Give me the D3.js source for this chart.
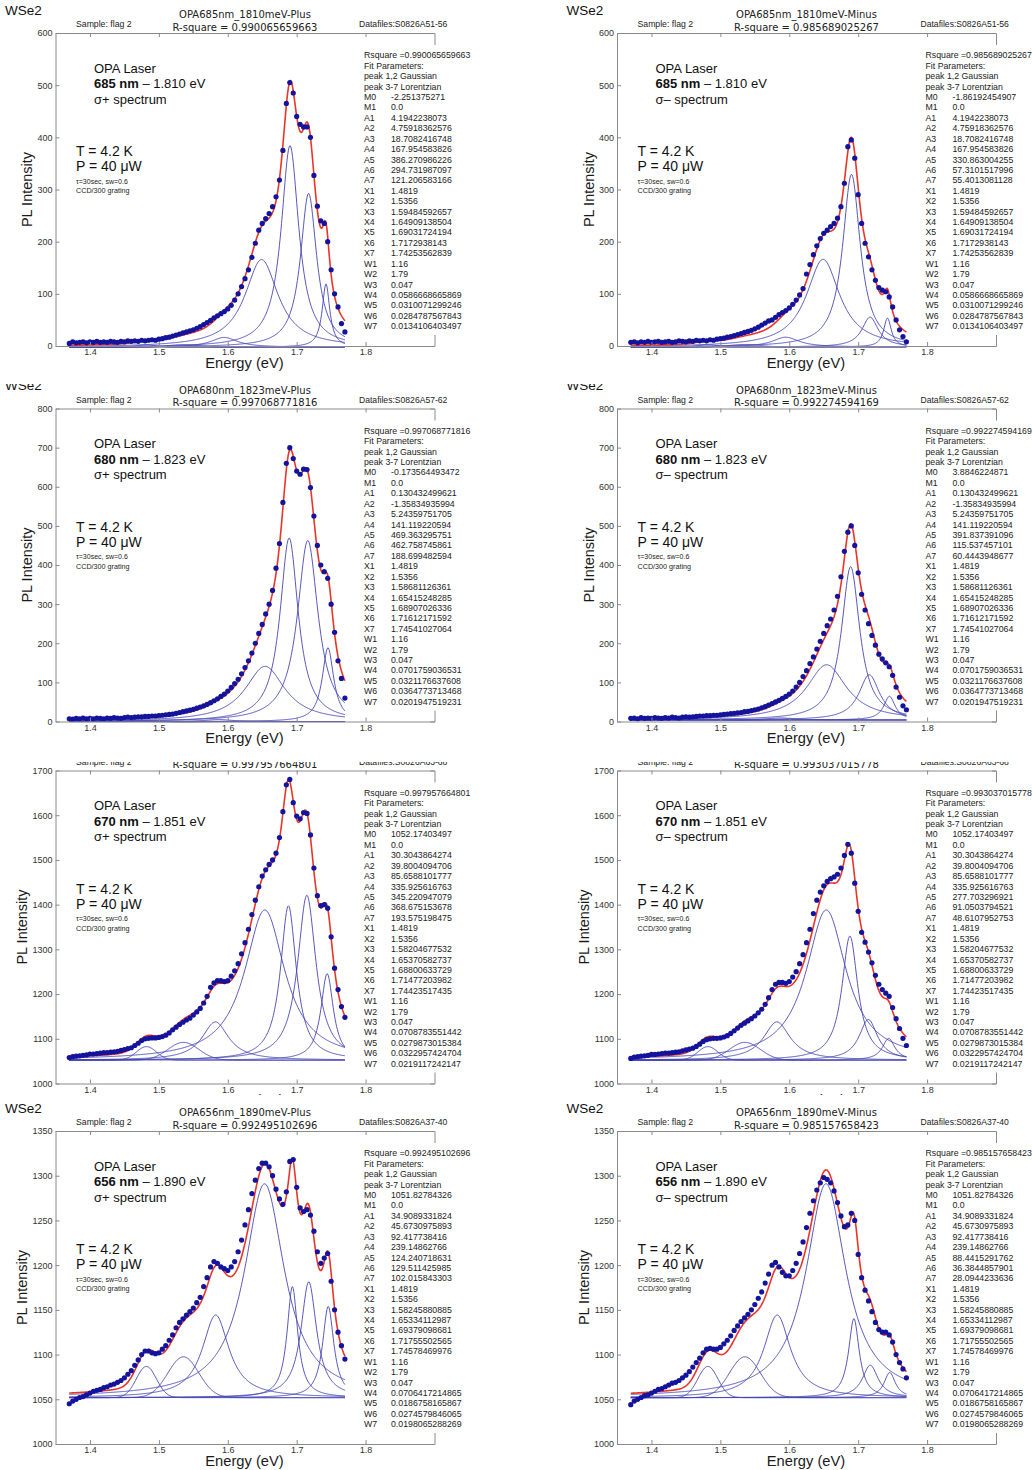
<!DOCTYPE html>
<html><head><meta charset="utf-8">
<script src="https://cdn.jsdelivr.net/npm/d3@7"></script>
<style>
body{margin:0;background:#fff}
text{font-family:"Liberation Sans",Arial,sans-serif}
</style>
</head><body>
<svg id="c" width="1032" height="1470"></svg>
<script>
// ---------- DATA ----------
const energy = [1.37,1.375,1.38,1.385,1.39,1.395,1.4,1.405,1.41,1.415,1.42,1.425,1.43,1.435,1.44,1.445,1.45,1.455,1.46,1.465,1.47,1.475,1.48,1.485,1.49,1.495,1.5,1.505,1.51,1.515,1.52,1.525,1.53,1.535,1.54,1.545,1.55,1.555,1.56,1.565,1.57,1.575,1.58,1.585,1.59,1.595,1.6,1.605,1.61,1.615,1.62,1.625,1.63,1.635,1.64,1.645,1.65,1.655,1.66,1.665,1.67,1.675,1.68,1.685,1.69,1.695,1.7,1.705,1.71,1.715,1.72,1.725,1.73,1.735,1.74,1.745,1.75,1.755,1.76,1.765,1.77];

const pl685Plus = [5,8,6,7,8,6,8,7,9,7,8, 7,9,8,7,9,8,10,9,10,9, 11,10,11,12,11,13,14,16,17,19, 21,23,25,27,29,31,34,37,41,45, 49,54,58,62,66,71,78,88,100,114, 129,146,170,197,222,235,244,254,267,286, 318,375,465,505,485,440,425,420,420,400, 327,268,240,235,200,146,100,75,43,27];
const pl685Minus = [7,8,6,8,7,9,7,8,9,7,8, 9,7,8,10,9,8,10,9,11,10, 11,10,12,11,13,14,15,17,18,20, 22,24,26,28,30,33,36,40,44,48, 50,55,60,64,68,73,80,88,98,110, 138,156,175,192,206,216,222,229,235,245, 267,312,382,395,360,290,235,197,171,146, 126,112,107,104,94,75,50,31,18,8];
const pl680Plus = [7,6,8,7,9,7,8,7,9,8,7, 9,8,10,9,8,10,11,10,11,12, 12,13,13,14,14,15,16,17,18,19, 21,23,25,27,29,31,34,37,40,44, 48,53,58,64,70,78,87,97,108,122, 138,155,175,200,225,248,275,300,335,392, 455,560,660,700,672,640,632,645,644,598, 525,450,400,383,366,300,228,155,110,60];
const pl680Minus = [8,9,7,10,8,9,8,10,9,8,10, 9,11,10,9,11,12,11,12,13,14, 14,15,15,16,16,17,18,19,20,21, 22,23,25,26,28,30,32,35,38,42, 46,50,54,59,64,70,78,88,100,115, 130,148,165,185,205,225,245,262,285,320, 370,435,484,500,450,380,325,285,250,220, 195,172,160,150,140,118,88,62,40,30];
const pl670Plus = [1058,1060,1061,1062,1063,1064,1066,1066,1067,1068,1069, 1069,1070,1071,1072,1074,1076,1078,1080,1085,1090, 1096,1100,1101,1102,1102,1103,1105,1108,1113,1120, 1126,1132,1137,1142,1146,1153,1160,1168,1180,1195, 1215,1225,1230,1230,1228,1230,1240,1252,1268,1290, 1315,1345,1378,1410,1440,1464,1478,1490,1500,1515, 1550,1608,1668,1680,1628,1598,1592,1606,1604,1556, 1482,1420,1398,1400,1392,1328,1258,1210,1172,1148];
const pl670Minus = [1056,1059,1060,1061,1062,1063,1065,1065,1066,1067,1068, 1068,1069,1070,1071,1073,1075,1077,1079,1083,1088, 1094,1098,1100,1101,1101,1102,1104,1107,1112,1118, 1124,1130,1135,1140,1145,1151,1158,1166,1177,1192, 1210,1222,1226,1226,1224,1228,1238,1250,1268,1288, 1315,1345,1380,1410,1428,1442,1452,1458,1462,1468, 1482,1510,1535,1515,1448,1385,1338,1316,1294,1270, 1242,1222,1210,1202,1195,1170,1145,1123,1101,1085];
const pl656Plus = [1045,1048,1050,1052,1053,1055,1057,1059,1060,1061,1063, 1064,1066,1067,1069,1071,1074,1078,1082,1088,1094, 1100,1104,1104,1102,1101,1102,1106,1110,1116,1122, 1130,1136,1140,1144,1148,1152,1158,1164,1176,1186, 1198,1204,1202,1198,1196,1194,1198,1204,1215,1228, 1245,1262,1280,1295,1308,1314,1314,1310,1300,1285, 1274,1268,1282,1316,1318,1287,1264,1260,1262,1256, 1238,1215,1202,1208,1213,1182,1150,1125,1110,1095];
const pl656Minus = [1044,1048,1050,1052,1054,1055,1057,1059,1061,1062,1064, 1066,1068,1069,1071,1074,1077,1081,1086,1091,1096, 1102,1106,1107,1106,1106,1108,1112,1116,1121,1127, 1132,1137,1141,1145,1150,1156,1163,1170,1180,1190, 1200,1203,1198,1192,1188,1188,1194,1202,1213,1226, 1242,1258,1272,1284,1292,1298,1296,1292,1283,1270, 1255,1243,1245,1258,1250,1212,1186,1172,1160,1148, 1136,1128,1125,1125,1122,1114,1100,1091,1084,1074];
const plSeries = [pl685Plus, pl685Minus, pl680Plus, pl680Minus, pl670Plus, pl670Minus, pl656Plus, pl656Minus];

const runTitles = ["OPA685nm_1810meV-Plus","OPA685nm_1810meV-Minus","OPA680nm_1823meV-Plus","OPA680nm_1823meV-Minus","OPA670nm_1851meV-Plus","OPA670nm_1851meV-Minus","OPA656nm_1890meV-Plus","OPA656nm_1890meV-Minus"];
const rSquares = ["0.990065659663","0.985689025267","0.997068771816","0.992274594169","0.997957664801","0.993037015778","0.992495102696","0.985157658423"];
const dataFiles = ["S0826A51-56","S0826A51-56","S0826A57-62","S0826A57-62","S0826A63-68","S0826A63-68","S0826A37-40","S0826A37-40"];
const laserNm = ["685","685","680","680","670","670","656","656"];
const laserEv = ["1.810","1.810","1.823","1.823","1.851","1.851","1.890","1.890"];
const helicity = ["σ+","σ–","σ+","σ–","σ+","σ–","σ+","σ–"];

const m0Params = ["-2.251375271","-1.86192454907","-0.173564493472","3.8846224871","1052.17403497","1052.17403497","1051.82784326","1051.82784326"];
const ampParams = [
 ["4.1942238073","4.75918362576","18.7082416748","167.954583826","386.270986226","294.731987097","121.206583166"],
 ["4.1942238073","4.75918362576","18.7082416748","167.954583826","330.863004255","57.3101517996","55.4013081128"],
 ["0.130432499621","-1.35834935994","5.24359751705","141.119220594","469.363295751","462.758745861","188.699482594"],
 ["0.130432499621","-1.35834935994","5.24359751705","141.119220594","391.837391096","115.537457101","60.4443948677"],
 ["30.3043864274","39.8004094706","85.6588101777","335.925616763","345.220947079","368.675153678","193.575198475"],
 ["30.3043864274","39.8004094706","85.6588101777","335.925616763","277.703296921","91.0503794521","48.6107952753"],
 ["34.9089331824","45.6730975893","92.417738416","239.14862766","124.240718631","129.511425985","102.015843303"],
 ["34.9089331824","45.6730975893","92.417738416","239.14862766","88.4415291762","36.3844857901","28.0944233636"]
];
const centerParams = [
 ["1.4819","1.5356","1.59484592657","1.64909138504","1.69031724194","1.7172938143","1.74253562839"],
 ["1.4819","1.5356","1.59484592657","1.64909138504","1.69031724194","1.7172938143","1.74253562839"],
 ["1.4819","1.5356","1.58681126361","1.65415248285","1.68907026336","1.71612171592","1.74541027064"],
 ["1.4819","1.5356","1.58681126361","1.65415248285","1.68907026336","1.71612171592","1.74541027064"],
 ["1.4819","1.5356","1.58204677532","1.65370582737","1.68800633729","1.71477203982","1.74423517435"],
 ["1.4819","1.5356","1.58204677532","1.65370582737","1.68800633729","1.71477203982","1.74423517435"],
 ["1.4819","1.5356","1.58245880885","1.65334112987","1.69379098681","1.71755502565","1.74578469976"],
 ["1.4819","1.5356","1.58245880885","1.65334112987","1.69379098681","1.71755502565","1.74578469976"]
];
const widthParams = [
 ["1.16","1.79","0.047","0.0586668665869","0.0310071299246","0.0284787567843","0.0134106403497"],
 ["1.16","1.79","0.047","0.0586668665869","0.0310071299246","0.0284787567843","0.0134106403497"],
 ["1.16","1.79","0.047","0.0701759036531","0.0321176637608","0.0364773713468","0.0201947519231"],
 ["1.16","1.79","0.047","0.0701759036531","0.0321176637608","0.0364773713468","0.0201947519231"],
 ["1.16","1.79","0.047","0.0708783551442","0.0279873015384","0.0322957424704","0.0219117242147"],
 ["1.16","1.79","0.047","0.0708783551442","0.0279873015384","0.0322957424704","0.0219117242147"],
 ["1.16","1.79","0.047","0.0706417214865","0.0186758165867","0.0274579846065","0.0198065288269"],
 ["1.16","1.79","0.047","0.0706417214865","0.0186758165867","0.0274579846065","0.0198065288269"]
];

const xTicks = [1.4,1.5,1.6,1.7,1.8];
const yDomains = [[0,600],[0,800],[1000,1700],[1000,1350]];
const yTicks = [[0,100,200,300,400,500,600],[0,100,200,300,400,500,600,700,800],[1000,1100,1200,1300,1400,1500,1600,1700],[1000,1050,1100,1150,1200,1250,1300,1350]];

// ---------- LAYOUT ----------
const colX = [0, 561.5];
const rowY = [0, 375.5, 737.5, 1098];
const rowClip = [[0,380],[384,755],[762,1095],[1099,1470]];
const yLabelX = [32, 32, 27, 27];
const L = 55.5, R = 434.5, T = 33, B = 346;

const svg = d3.select("#c");
svg.append("rect").attr("width",1032).attr("height",1470).attr("fill","#fff");
const defs = svg.append("defs");
rowClip.forEach((c,i)=>{
  defs.append("clipPath").attr("id","row"+i).attr("clipPathUnits","userSpaceOnUse")
    .append("rect").attr("x",0).attr("y",c[0]).attr("width",1032).attr("height",c[1]-c[0]);
});

function component(k, e, A, X, W){
  if (k < 2) { const s = W/80; return A*Math.exp(-0.5*((e-X)/s)*((e-X)/s)); }
  const h = W/2; return A/(1+((e-X)/h)*((e-X)/h));
}
const curveE = d3.range(1370, 1771).map(v=>v/1000);

for (let p=0; p<8; p++){
  const row = Math.floor(p/2), col = p%2;
  const outer = svg.append("g").attr("clip-path",`url(#row${row})`);
  const g = outer.append("g").attr("transform",`translate(${colX[col]},${rowY[row]})`);
  const x = d3.scaleLinear().domain([1.35,1.9]).range([L,R]);
  const y = d3.scaleLinear().domain(yDomains[row]).range([B,T]);

  // header
  g.append("text").attr("x",5).attr("y",14.5).attr("font-size",13.5).attr("fill","#111").text("WSe2");
  g.append("text").attr("x",76).attr("y",27).attr("font-size",8.7).attr("fill","#222").text("Sample: flag 2");
  g.append("text").attr("x",245).attr("y",18).attr("text-anchor","middle").attr("font-size",10)
    .style("font-family","DejaVu Sans").attr("fill","#222").text(runTitles[p]);
  g.append("text").attr("x",245).attr("y",30.5).attr("text-anchor","middle").attr("font-size",10)
    .style("font-family","DejaVu Sans").attr("fill","#222").text("R-square = " + rSquares[p]);
  g.append("text").attr("x",359).attr("y",27).attr("font-size",8.6).attr("fill","#222").text("Datafiles:" + dataFiles[p]);

  // model curves from the printed fit parameters
  const M0 = +m0Params[p];
  const A = ampParams[p].map(Number), X = centerParams[p].map(Number), W = widthParams[p].map(Number);
  const line = d3.line().x(d=>x(d[0])).y(d=>y(d[1]));
  for (let k=0;k<7;k++){
    const pts = curveE.map(e=>[e, M0 + component(k,e,A[k],X[k],W[k])]);
    g.append("path").attr("d",line(pts)).attr("fill","none").attr("stroke","#4646b4").attr("stroke-width",1).attr("stroke-opacity",0.9);
  }
  const fit = curveE.map(e=>{ let s=M0; for(let k=0;k<7;k++) s+=component(k,e,A[k],X[k],W[k]); return [e,s]; });
  g.append("path").attr("d",line(fit)).attr("fill","none").attr("stroke","#e8352a").attr("stroke-width",1.6);

  // data points
  g.append("g").selectAll("circle").data(plSeries[p]).join("circle")
    .attr("cx",(d,i)=>x(energy[i])).attr("cy",d=>y(d)).attr("r",2.6).attr("fill","#13139c");

  // axes
  const axisStyle = sel => { sel.selectAll("path,line").attr("stroke","#8a8a8a"); sel.selectAll("text").attr("font-size",9).attr("fill","#333").style("font-family","Liberation Sans, Arial, sans-serif"); };
  g.append("g").attr("transform",`translate(0,${B})`)
    .call(d3.axisBottom(x).tickValues(xTicks).tickFormat(d3.format(".1f")).tickSizeInner(-4).tickSizeOuter(0).tickPadding(3)).call(axisStyle);
  g.append("g").attr("transform",`translate(0,${T})`)
    .call(d3.axisTop(x).tickValues(xTicks).tickFormat("").tickSizeInner(-4).tickSizeOuter(0)).call(axisStyle);
  g.append("g").attr("transform",`translate(${L},0)`)
    .call(d3.axisLeft(y).tickValues(yTicks[row]).tickFormat(d3.format("d")).tickSizeInner(-4).tickSizeOuter(0).tickPadding(3)).call(axisStyle);
  g.append("g").attr("transform",`translate(${R},0)`)
    .call(d3.axisRight(y).tickValues(yTicks[row]).tickFormat("").tickSizeInner(-4).tickSizeOuter(0)).call(axisStyle);

  // axis titles
  g.append("text").attr("transform",`translate(${yLabelX[row]},189.5) rotate(-90)`).attr("text-anchor","middle")
    .attr("font-size",14.5).attr("fill","#1a1a1a").text("PL Intensity");
  g.append("text").attr("x",244.5).attr("y",367.5).attr("text-anchor","middle")
    .attr("font-size",14.7).attr("fill","#1a1a1a").text("Energy (eV)");

  // annotations
  g.append("text").attr("x",94).attr("y",72.7).attr("font-size",13).attr("fill","#111").text("OPA Laser");
  const t2 = g.append("text").attr("x",94).attr("y",88).attr("font-size",13).attr("fill","#111");
  t2.append("tspan").attr("font-weight","bold").text(laserNm[p] + " nm");
  t2.append("tspan").text(" – " + laserEv[p] + " eV");
  g.append("text").attr("x",94).attr("y",103.5).attr("font-size",13).attr("fill","#111").text(helicity[p] + " spectrum");
  g.append("text").attr("x",76).attr("y",156).attr("font-size",14).attr("fill","#111").text("T = 4.2 K");
  g.append("text").attr("x",76).attr("y",171).attr("font-size",14).attr("fill","#111").text("P = 40 μW");
  g.append("text").attr("x",76).attr("y",183.5).attr("font-size",7).attr("fill","#222").text("τ=30sec, sw=0.6");
  g.append("text").attr("x",76).attr("y",193.3).attr("font-size",7.2).attr("fill","#222").text("CCD/300 grating");

  // parameter box
  g.append("rect").attr("x",360).attr("y",45).attr("width",125).attr("height",290).attr("fill","#fff");
  const head = ["Rsquare =" + rSquares[p], "Fit Parameters:", "peak 1,2 Gaussian", "peak 3-7 Lorentzian"];
  const rows = [["M0", m0Params[p]], ["M1","0.0"]];
  for (let k=0;k<7;k++) rows.push(["A"+(k+1), ampParams[p][k]]);
  for (let k=0;k<7;k++) rows.push(["X"+(k+1), centerParams[p][k]]);
  for (let k=0;k<7;k++) rows.push(["W"+(k+1), widthParams[p][k]]);
  const lh = 10.42, y0 = 58.3, fs = 8.75;
  head.forEach((t,i)=> g.append("text").attr("x",364).attr("y",y0+i*lh).attr("font-size",fs).attr("fill","#222").text(t));
  rows.forEach((r,i)=>{
    g.append("text").attr("x",364).attr("y",y0+(i+4)*lh).attr("font-size",fs).attr("fill","#222").text(r[0]);
    g.append("text").attr("x",391).attr("y",y0+(i+4)*lh).attr("font-size",fs).attr("fill","#222").text(r[1]);
  });
}
</script>
</body></html>
